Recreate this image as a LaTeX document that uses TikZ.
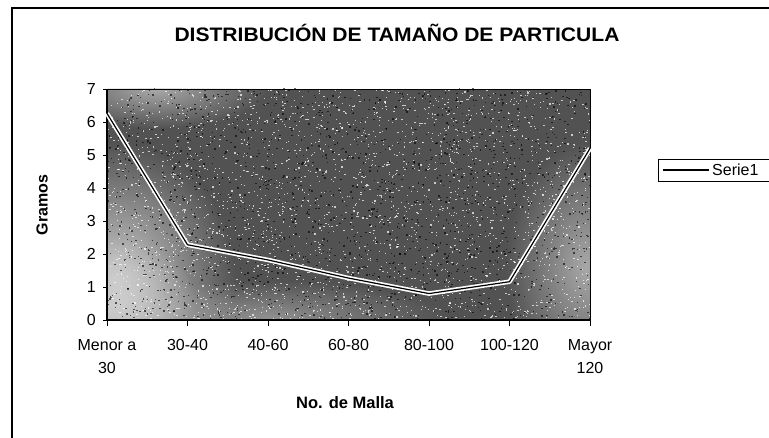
\documentclass[tikz,border=0pt]{standalone}
\usepackage{fontspec}
\setmainfont{Liberation Sans}
\usetikzlibrary{positioning}
\usetikzlibrary{calc}
\usetikzlibrary{fadings}
\definecolor{plotGray}{RGB}{82,82,82}
\definecolor{plotLight}{RGB}{205,205,205}
\tikzfading[name=softblob, inner color=transparent!0, outer color=transparent!100]
\tikzstyle{ticklabel} = [font=\fontsize{16}{23}\selectfont,inner sep=0pt,align=center]
\tikzstyle{axistitle} = [font=\fontsize{16}{20}\selectfont\bfseries,inner sep=0pt]
\tikzstyle{serie} = [line width=1.2pt,black,line join=round]
\tikzstyle{glow} = [plotLight,path fading=softblob]

\begin{document}
\begin{tikzpicture}[x=1pt,y=1pt]

    \useasboundingbox (0,0) rectangle (769,438);
    \fill[white] (0,0) rectangle (769,438);
    % outer chart frame (only left and top are in the picture)
    \draw[line width=1.4pt] (12,-5) -- (12,430) -- (780,430);

    \node[font=\fontsize{19.5}{22}\selectfont\bfseries,xscale=1.08] (Title) at (397,405)
        {DISTRIBUCIÓN DE TAMAÑO DE PARTICULA};

    \begin{scope}[shift={(107,118)},x=80.5pt,y=33pt]
    % plot area with scanned grey texture
    \fill[plotGray] (0,0) rectangle (6,7);
    \begin{scope}
      \clip (0,0) rectangle (6,7);
      \fill[glow] (0.1,1.2) ellipse (1.5 and 4.2);
      \fill[glow] (0.1,0.5) ellipse (1.0 and 2.0);
      \fill[glow,opacity=0.7] (0.6,7) ellipse (1.4 and 1.2);
      \fill[glow,opacity=0.7] (5.95,1.6) ellipse (1.0 and 3.8);
      \fill[glow,opacity=0.5] (2.0,0.1) ellipse (2.2 and 1.1);
      \pgfmathsetseed{7}
      \foreach \i in {1,...,2600}{% light specks of the halftone
        \fill[white,opacity=0.7] (6*rnd,7*rnd) rectangle ++(1.3pt,1.1pt);
      }
      \foreach \i in {1,...,1800}{% dark specks
        \fill[black,opacity=0.6] (6*rnd,7*rnd) rectangle ++(1.5pt,1.3pt);
      }
    \end{scope}
    \draw[line width=0.9pt] (0,7) -- (6,7) -- (6,0);
    \draw[line width=1.2pt] (0,0) -- (0,7);
    \draw[line width=1.2pt] (0,0) -- (6,0);

    % y ticks
    \foreach \y in {0,...,7}{
      \draw[line width=0.9pt] (0,\y) -- ++(-4pt,0);
      \node[ticklabel,anchor=east] (ylab\y) at ([xshift=-11pt]0,\y) {\y};
    }
    % x ticks and categories
    \foreach \x/\lab in {0/{Menor a\\30},1/30-40,2/40-60,3/60-80,4/80-100,5/100-120,6/{Mayor\\120}}{
      \draw[line width=0.9pt] (\x,0) -- ++(0,-6pt);
      \node[ticklabel,anchor=north] (xlab\x) at ([yshift=-19pt]\x,0) {\lab};
    }

    % data points
    \coordinate (Menor) at (0,6.26);
    \coordinate (A) at (1,2.28);
    \coordinate (B) at (2,1.82);
    \coordinate (C) at (3,1.27);
    \coordinate (D) at (4,0.8);
    \coordinate (E) at (5,1.16);
    \coordinate (Mayor) at (6,5.2);
    \draw[white,line width=4.5pt,line join=round] (Menor) -- (A) -- (B) -- (C) -- (D) -- (E) -- (Mayor);
    \draw[serie] (Menor) -- (A) -- (B) -- (C) -- (D) -- (E) -- (Mayor);
    \end{scope}

    \node[axistitle,rotate=90] (Gramos) at (42,233) {Gramos};
    \node[axistitle,font=\fontsize{16.5}{20}\selectfont\bfseries] (Malla) at (345,35) {No. de Malla};

    % legend
    \draw[line width=0.9pt] (780,279) -- (658,279) -- (658,257) -- (780,257);
    \coordinate (legL) at (663,268);
    \coordinate (legR) at (709,268);
    \draw[serie] (legL) -- (legR);
    \node[ticklabel,anchor=west] (Serie) at (712,268) {Serie1};

  \end{tikzpicture}
\end{document}
